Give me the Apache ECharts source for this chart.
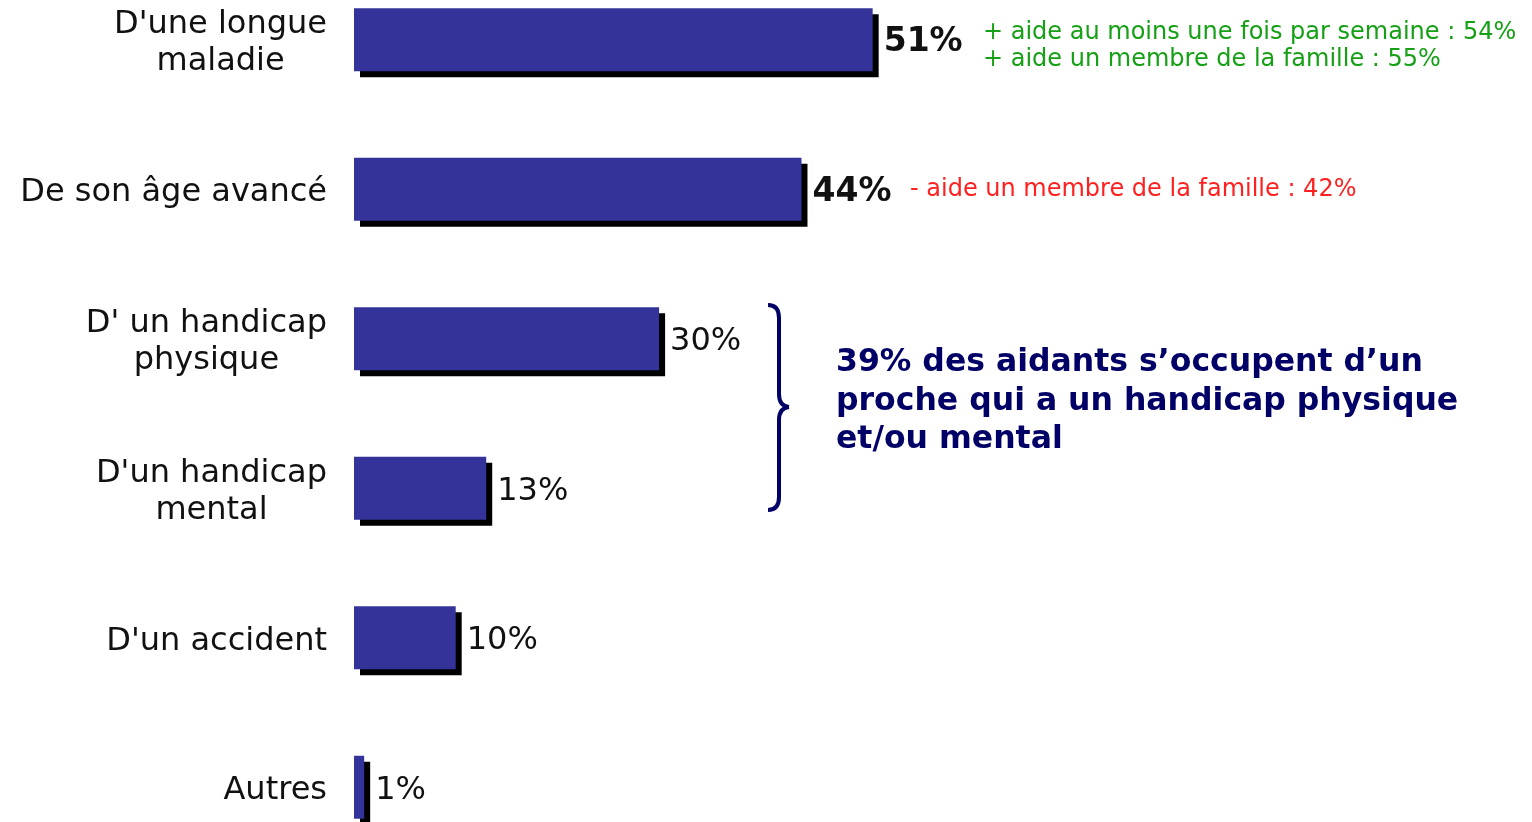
<!DOCTYPE html>
<html>
<head>
<meta charset="utf-8">
<title>Aidants - nature de la dépendance</title>
<script src="https://cdn.jsdelivr.net/npm/echarts@6/dist/echarts.min.js"></script>
<style>
  html, body { margin: 0; padding: 0; background: #fff; }
  #main { width: 1532px; height: 822px; }
</style>
</head>
<body>
<div id="main"></div>
<script>
/* données du graphique */
var categories = [
  "D'une longue\nmaladie",
  "De son âge avancé",
  "D' un handicap\nphysique",
  "D'un handicap\nmental",
  "D'un accident",
  "Autres"
];
var values = [51, 44, 30, 13, 10, 1];

// annotations à droite des barres
var noteGreen = ["+ aide au moins une fois par semaine : 54%", "+ aide un membre de la famille : 55%"];
var noteRed = ["- aide un membre de la famille : 42%"];
var noteBlue = ["39% des aidants s\u2019occupent d\u2019un", "proche qui a un handicap physique", "et/ou mental"];

var FONT = "'DejaVu Sans', Verdana, sans-serif";
var NAVY = '#000066';

var chart = echarts.init(document.getElementById('main'));

var seriesData = values.map(function (v, i) {
  var item = { value: v };
  if (i < 2) {
    // les deux premiers pourcentages sont en gras
    item.label = { fontWeight: 'bold', fontSize: 33 };
  }
  return item;
});

// accolade : segments droits + courbes
function braceLine(x1, y1, x2, y2) {
  return { type: 'line', shape: { x1: x1, y1: y1, x2: x2, y2: y2 },
           style: { stroke: NAVY, lineWidth: 4 } };
}
function braceCurve(x1, y1, cx, cy, x2, y2) {
  return { type: 'bezierCurve', shape: { x1: x1, y1: y1, cpx1: cx, cpy1: cy, x2: x2, y2: y2 },
           style: { stroke: NAVY, lineWidth: 4, fill: null } };
}

var option = {
  backgroundColor: '#ffffff',
  animation: false,
  grid: {
    left: 354,
    top: -35,
    height: 897,
    width: 1017,
    outerBoundsMode: 'none'
  },
  xAxis: {
    type: 'value',
    min: 0,
    max: 100,
    show: false
  },
  yAxis: {
    type: 'category',
    inverse: true,
    data: categories,
    axisLine: { show: false },
    axisTick: { show: false },
    splitLine: { show: false },
    axisLabel: {
      margin: 27,
      color: '#111',
      fontFamily: FONT,
      fontSize: 32,
      lineHeight: 37,
      padding: [7, 0, 0, 0],
      formatter: function (val) {
        // chaque ligne centrée dans le bloc, bloc aligné à droite
        return val.split('\n').map(function (l) { return '{c|' + l + '}'; }).join('\n');
      },
      rich: {
        c: { align: 'center', fontFamily: FONT, fontSize: 32, lineHeight: 37, color: '#111' }
      }
    }
  },
  series: [{
    type: 'bar',
    data: seriesData,
    barWidth: 63,
    itemStyle: {
      color: '#333399',
      shadowColor: '#000000',
      shadowBlur: 0,
      shadowOffsetX: 6,
      shadowOffsetY: 6
    },
    label: {
      show: true,
      position: 'right',
      distance: 11,
      offset: [0, 3],
      formatter: '{c}%',
      color: '#111',
      fontFamily: FONT,
      fontSize: 32
    }
  }],
  graphic: [
    {
      type: 'text',
      x: 983,
      y: 19,
      style: {
        text: noteGreen.join('\n'),
        fill: '#15a015',
        font: '24px ' + FONT,
        lineHeight: 27
      }
    },
    {
      type: 'text',
      x: 910,
      y: 176,
      style: {
        text: noteRed.join('\n'),
        fill: '#ff2020',
        font: '24px ' + FONT,
        lineHeight: 27
      }
    },
    {
      type: 'text',
      x: 836,
      y: 344,
      style: {
        text: noteBlue.join('\n'),
        fill: NAVY,
        font: 'bold 31.5px ' + FONT,
        lineHeight: 38.5
      }
    },
    braceCurve(768, 305, 779, 305, 779, 318),
    braceLine(779, 318, 779, 394),
    braceCurve(779, 394, 779, 406, 789, 407),
    braceCurve(789, 407, 779, 408, 779, 420),
    braceLine(779, 420, 779, 497),
    braceCurve(779, 497, 779, 510, 768, 510)
  ]
};

chart.setOption(option);
</script>
</body>
</html>
